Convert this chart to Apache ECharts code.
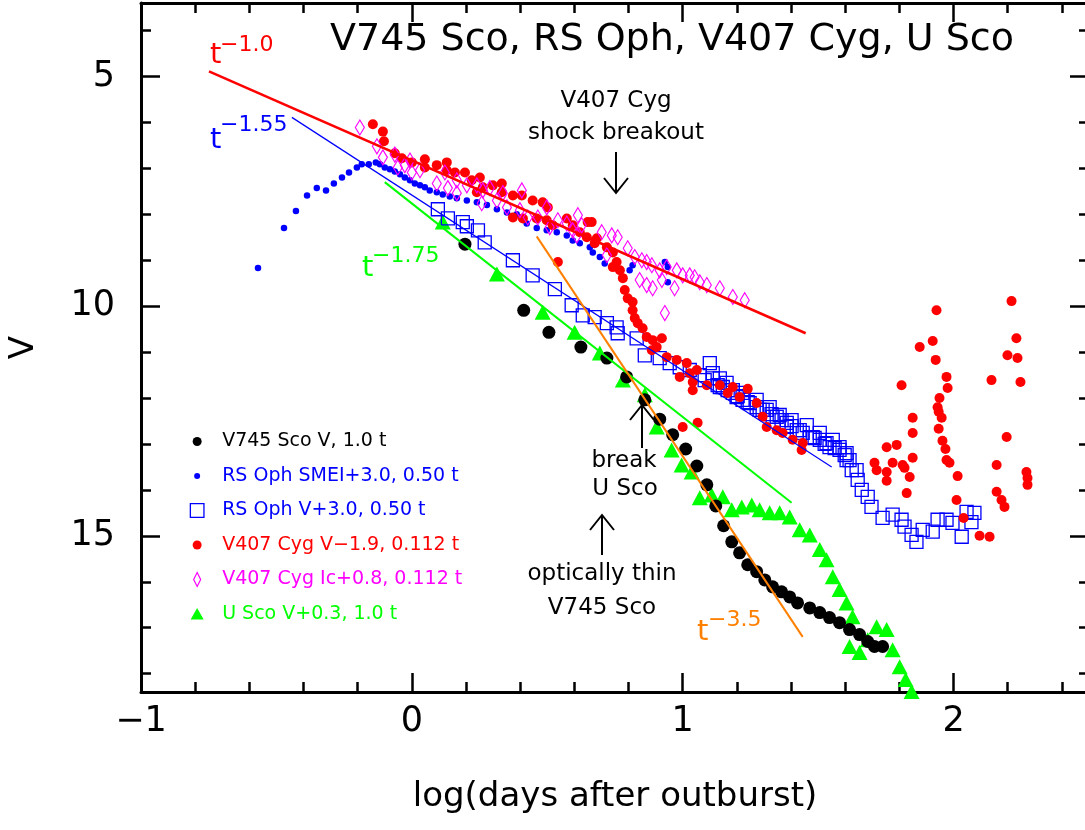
<!DOCTYPE html>
<html>
<head>
<meta charset="utf-8">
<script src="https://cdn.jsdelivr.net/npm/echarts@6/dist/echarts.min.js"></script>
<style>
html,body{margin:0;padding:0;background:#fff;}
#chart{width:1085px;height:830px;}
</style>
</head>
<body>
<div id="chart"></div>
<script>
// ---------- data (x = log days after outburst, y = V magnitude) ----------
const v745ScoV = [[0.196,8.65],[0.413,10.09],[0.506,10.57],[0.624,10.89],[0.720,11.13],[0.793,11.54],[0.860,12.04],[0.915,12.46],[0.963,12.80],[1.011,13.11],[1.052,13.48],[1.089,13.89],[1.122,14.35],[1.151,14.78],[1.181,15.13],[1.210,15.37],[1.240,15.63],[1.273,15.78],[1.303,15.96],[1.332,16.11],[1.365,16.22],[1.395,16.33],[1.424,16.46],[1.469,16.57],[1.506,16.67],[1.542,16.78],[1.579,16.89],[1.616,17.04],[1.653,17.15],[1.683,17.30],[1.708,17.41],[1.738,17.41]];

const rsOphSMEI = [[-0.568,9.17],[-0.472,8.30],[-0.428,7.93],[-0.387,7.59],[-0.351,7.43],[-0.317,7.48],[-0.288,7.33],[-0.258,7.20],[-0.232,7.09],[-0.203,6.98],[-0.185,6.91],[-0.159,6.91],[-0.133,6.87],[-0.118,6.91],[-0.100,6.98],[-0.081,7.02],[-0.063,7.07],[-0.044,7.13],[-0.026,7.20],[-0.007,7.26],[0.011,7.33],[0.030,7.37],[0.048,7.41],[0.066,7.48],[0.092,7.52],[0.114,7.57],[0.140,7.61],[0.166,7.65],[0.203,7.70],[0.240,7.74],[0.277,7.80],[0.314,7.89],[0.351,7.96],[0.387,8.00],[0.424,8.20],[0.461,8.30],[0.498,8.35],[0.535,8.39],[0.572,8.46],[0.594,8.57],[0.620,8.63],[0.657,8.72],[0.668,8.83],[0.694,8.93],[0.712,9.07],[0.804,9.22],[0.815,9.11],[0.934,9.04],[0.945,9.15],[0.945,9.48]];

const rsOphV = [[0.096,7.89],[0.133,8.09],[0.188,8.17],[0.203,8.26],[0.244,8.35],[0.269,8.61],[0.373,9.00],[0.446,9.33],[0.528,9.63],[0.590,9.98],[0.631,10.20],[0.675,10.24],[0.720,10.37],[0.756,10.46],[0.760,10.59],[0.830,10.70],[0.860,11.07],[0.915,11.13],[0.952,11.24],[0.989,11.33],[1.026,11.39],[1.063,11.50],[1.081,11.61],[1.111,11.57],[1.129,11.72],[1.148,11.76],[1.166,11.83],[1.185,11.89],[1.203,11.96],[1.221,12.04],[1.240,12.09],[1.273,12.20],[1.284,12.26],[1.310,12.26],[1.328,12.35],[1.347,12.41],[1.365,12.48],[1.384,12.54],[1.402,12.61],[1.421,12.70],[1.443,12.76],[1.469,12.85],[1.487,12.87],[1.506,12.91],[1.524,13.00],[1.542,13.07],[1.561,13.09],[1.579,13.13],[1.598,13.24],[1.605,13.35],[1.624,13.57],[1.646,13.78],[1.661,14.00],[1.683,14.15],[1.697,14.37],[1.738,14.61],[1.775,14.54],[1.808,14.65],[1.819,14.80],[1.845,14.98],[1.863,15.13],[1.886,14.87],[1.923,14.91],[1.941,14.65],[1.974,14.65],[1.996,14.72],[2.030,15.02],[2.048,14.48],[2.077,14.50],[2.066,14.70],
  [1.100,11.24],[1.111,11.46],[1.137,11.57],[1.137,11.76],[1.162,11.67],[1.185,11.83],[1.199,11.98],[1.221,11.89],[1.247,12.11],[1.273,12.04],[1.295,12.26],[1.321,12.20],[1.332,12.41],[1.358,12.37],[1.384,12.63],[1.402,12.48],[1.432,12.70],[1.458,12.59],[1.480,12.85],[1.506,12.76],[1.531,12.98],[1.554,12.91],[1.579,13.07],[1.605,13.20],[1.616,13.35],[1.642,13.57]];

const v407CygV = [[-0.144,6.04],[-0.107,6.20],[-0.103,6.41],[-0.063,6.67],[-0.037,6.78],[0.000,6.87],[0.048,6.80],[0.048,6.98],[0.092,6.93],[0.129,6.87],[0.129,7.04],[0.159,7.09],[0.196,7.09],[0.221,7.26],[0.251,7.20],[0.262,7.41],[0.299,7.37],[0.332,7.33],[0.332,7.52],[0.240,7.52],[0.373,7.59],[0.406,7.59],[0.446,7.70],[0.483,7.74],[0.502,7.85],[0.373,8.07],[0.410,8.09],[0.461,8.09],[0.498,8.13],[0.520,8.24],[0.572,8.09],[0.594,8.24],[0.620,8.39],[0.649,8.17],[0.646,8.50],[0.683,8.52],[0.664,8.17],[0.675,8.63],[0.720,8.72],[0.742,8.83],[0.756,9.04],[0.742,9.15],[0.768,9.22],[0.779,9.39],[0.786,9.65],[0.797,9.83],[0.815,9.91],[0.815,10.09],[0.823,10.26],[0.834,10.37],[0.852,10.48],[0.867,10.67],[0.889,10.74],[0.923,10.70],[0.904,10.89],[0.886,10.96],[0.941,11.11],[0.978,11.17],[1.015,11.24],[1.052,11.39],[1.026,11.46],[0.989,11.54],[1.037,11.65],[1.037,11.83],[1.089,11.72],[1.137,11.72],[1.185,11.76],[1.166,11.89],[1.210,11.98],[1.240,11.80],[1.273,12.11],[1.295,12.41],[1.310,12.63],[1.347,12.70],[1.369,12.76],[1.406,12.91],[1.443,12.98],[1.439,13.13],[0.539,9.04],[1.000,12.63],[1.055,12.54],[1.708,13.41],[1.716,13.57],[1.753,13.07],[1.790,13.02],[1.775,13.41],[1.812,13.46],[1.819,13.52],[1.753,13.61],[1.753,13.80],[1.827,14.07],[1.838,13.72],[1.849,13.30],[1.849,12.43],[1.849,12.76],[1.808,11.72],[1.875,10.89],[1.923,10.76],[1.937,10.09],[1.934,11.17],[1.974,11.54],[1.978,11.78],[1.948,12.00],[1.941,12.20],[1.945,12.30],[1.956,12.43],[1.945,12.67],[1.959,12.93],[1.970,13.11],[1.974,13.35],[1.985,13.41],[2.015,13.70],[2.011,14.22],[2.037,14.61],[2.096,15.00],[2.133,15.02],[2.140,11.61],[2.159,13.46],[2.159,14.04],[2.177,14.22],[2.188,14.37],[2.196,12.85],[2.199,11.07],[2.214,9.89],[2.232,10.70],[2.236,11.13],[2.247,11.65],[2.269,13.61],[2.273,13.74],[2.273,13.89]];

const v407CygIc = [[-0.192,6.11],[-0.129,6.52],[-0.107,6.76],[-0.063,6.70],[-0.052,6.98],[-0.026,6.93],[-0.007,6.83],[0.000,7.09],[0.030,7.04],[0.092,7.33],[0.122,7.09],[0.133,7.43],[0.166,7.54],[0.166,7.26],[0.203,7.37],[0.240,7.37],[0.258,7.76],[0.262,7.48],[0.288,7.43],[0.314,7.70],[0.336,7.54],[0.351,7.85],[0.406,7.48],[0.399,7.91],[0.428,8.07],[0.465,8.07],[0.498,7.85],[0.509,8.28],[0.539,8.13],[0.572,8.20],[0.594,8.35],[0.613,8.02],[0.609,8.46],[0.627,8.24],[0.701,8.39],[0.738,8.46],[0.760,8.50],[0.720,8.89],[0.797,8.74],[0.823,8.93],[0.849,9.00],[0.867,9.04],[0.886,9.11],[0.915,9.22],[0.941,9.15],[0.978,9.22],[1.000,9.33],[1.026,9.33],[1.044,9.37],[1.063,9.48],[1.089,9.54],[1.137,9.61],[1.185,9.80],[1.229,9.87],[0.841,9.43],[0.867,9.54],[0.889,9.61],[0.923,9.43],[0.970,9.61],[0.934,10.15]];

const uScoV = [[0.114,8.17],[0.314,9.30],[0.483,10.13],[0.601,10.57],[0.694,11.02],[0.779,11.61],[0.860,11.93],[0.904,12.63],[0.959,13.13],[0.996,13.46],[1.033,13.61],[1.063,14.17],[1.107,14.11],[1.148,14.15],[1.181,14.43],[1.218,14.37],[1.255,14.33],[1.284,14.43],[1.321,14.50],[1.358,14.50],[1.395,14.59],[1.432,14.87],[1.469,14.98],[1.506,15.30],[1.531,15.52],[1.554,15.89],[1.579,16.17],[1.605,16.46],[1.627,16.76],[1.616,17.41],[1.653,17.54],[1.683,17.26],[1.716,16.98],[1.753,17.04],[1.775,17.48],[1.801,17.85],[1.823,18.13],[1.845,18.39]];

// power-law guide lines (end points)
const fitT10  = [[-0.749,4.89],[1.454,10.59]];
const fitT155 = [[-0.443,5.89],[1.550,13.50]];
const fitT175 = [[-0.100,7.30],[1.402,14.28]];
const fitT35  = [[0.461,8.48],[1.443,17.20]];

// axis ticks
const xMajor = [-1, 0, 1, 2];
const xMinor = [-0.8,-0.6,-0.4,-0.2,0.2,0.4,0.6,0.8,1.2,1.4,1.6,1.8,2.2,2.4];
const yMajor = [5, 10, 15];
const yMinor = [4,6,7,8,9,11,12,13,14,16,17,18];

const seriesNames = ['V745 Sco V, 1.0 t','RS Oph SMEI+3.0, 0.50 t','RS Oph V+3.0, 0.50 t','V407 Cyg V\u22121.9, 0.112 t','V407 Cyg Ic+0.8, 0.112 t','U Sco V+0.3, 1.0 t'];

// ---------- chart ----------
const FONT = '"DejaVu Sans", sans-serif';
const chart = echarts.init(document.getElementById('chart'), null, {renderer: 'canvas'});

function xAx(pos, vals, len, withLine, withLabel) {
  return {
    type: 'value', position: pos, min: -1, max: 2.5,
    axisLine: {show: withLine, onZero: false, lineStyle: {color: '#000', width: 3}},
    axisTick: {show: true, inside: true, length: len, customValues: vals, lineStyle: {color: '#000', width: 2.5}},
    axisLabel: withLabel ? {show: true, customValues: xMajor, margin: 12, color: '#000', fontSize: 35, fontFamily: FONT,
      formatter: v => String(v).replace('-', '\u2212')} : {show: false},
    splitLine: {show: false}
  };
}
function yAx(pos, vals, len, withLine, withLabel) {
  return {
    type: 'value', position: pos, min: 3.4, max: 18.4, inverse: true,
    axisLine: {show: withLine, onZero: false, lineStyle: {color: '#000', width: 3}},
    axisTick: {show: true, inside: true, length: len, customValues: vals, lineStyle: {color: '#000', width: 2.5}},
    axisLabel: withLabel ? {show: true, customValues: yMajor, margin: 26, color: '#000', fontSize: 35, fontFamily: FONT} : {show: false},
    splitLine: {show: false}
  };
}

const xAxes = [xAx('bottom', xMajor, 19, true, true), xAx('bottom', xMinor, 10, false, false),
               xAx('top', xMajor, 19, true, false), xAx('top', xMinor, 10, false, false)];
Object.assign(xAxes[0], {name: 'log(days after outburst)', nameLocation: 'middle', nameGap: 88,
  nameTextStyle: {color: '#000', fontSize: 34, fontFamily: FONT}});
const yAxes = [yAx('left', yMajor, 19, true, true), yAx('left', yMinor, 10, false, false),
               yAx('right', yMajor, 19, true, false), yAx('right', yMinor, 10, false, false)];
Object.assign(yAxes[0], {name: 'V', nameLocation: 'middle', nameGap: 100, nameRotate: 90,
  nameTextStyle: {color: '#000', fontSize: 34, fontFamily: FONT}});

function scatter(name, data, symbol, size, itemStyle, z) {
  return {type: 'scatter', name, data, symbol, symbolSize: size, itemStyle: Object.assign({opacity: 1}, itemStyle), z,
    xAxisIndex: 0, yAxisIndex: 0, silent: true, emphasis: {disabled: true}};
}
function fitLine(data, color, width) {
  return {type: 'line', data, showSymbol: false, symbol: 'none', silent: true, z: 10,
    xAxisIndex: 0, yAxisIndex: 0, lineStyle: {color, width, opacity: 1}, emphasis: {disabled: true}};
}

const legendIcons = [
  'path://M0,0M15,15M7.5,3A4.5,4.5,0,1,1,7.5,12A4.5,4.5,0,1,1,7.5,3Z',
  'path://M0,0M15,15M7.5,4.5A3,3,0,1,1,7.5,10.5A3,3,0,1,1,7.5,4.5Z',
  'path://M0,0M15,15M0.7,0.7L14.3,0.7L14.3,14.3L0.7,14.3Z',
  'path://M0,0M15,15M7.5,3A4.5,4.5,0,1,1,7.5,12A4.5,4.5,0,1,1,7.5,3Z',
  'path://M0,0M15,15M7.5,0.5L11,7.5L7.5,14.5L4,7.5Z',
  'path://M0,0M15,15M7.5,1.5L14,13L1,13Z'
];
const legendColors = ['#000000','#0000ff','#0000ff','#ff0000','#ff00ff','#00ff00'];
const legendStyles = [
  {color: '#000', opacity: 1}, {color: '#0000ff', opacity: 1},
  {color: 'rgba(0,0,0,0)', borderColor: '#0000ff', borderWidth: 1.3, opacity: 1},
  {color: '#ff0000', opacity: 1},
  {color: 'rgba(0,0,0,0)', borderColor: '#ff00ff', borderWidth: 1.2, opacity: 1},
  {color: '#00ff00', opacity: 1}
];

function txt(text, x, y, size, color, align) {
  return {type: 'text', x, y, silent: true, z: 100,
    style: {text, font: size + 'px ' + FONT, fill: color, align: align || 'center', verticalAlign: 'middle'}};
}
function arrow(x, y0, y1, up) {
  const tip = up ? y0 : y1, dir = up ? 1 : -1;
  return [
    {type: 'polyline', silent: true, z: 100, shape: {points: [[x, y0], [x, y1]]}, style: {stroke: '#000', lineWidth: 2, fill: null}},
    {type: 'polyline', silent: true, z: 100, shape: {points: [[x - 12, tip + dir * 15], [x, tip], [x + 12, tip + dir * 15]]}, style: {stroke: '#000', lineWidth: 2, fill: null}}
  ];
}

const option = {
  animation: false,
  backgroundColor: '#fff',
  grid: {left: 141, top: 3, right: -4, bottom: 138, containLabel: false, outerBoundsMode: 'none', show: false},
  xAxis: xAxes,
  yAxis: yAxes,
  legend: {
    orient: 'vertical', left: 184, top: 427, itemWidth: 40, itemHeight: 15, itemGap: 15.5,
    selectedMode: false, symbolKeepAspect: true,
    textStyle: {fontSize: 19, fontFamily: FONT},
    data: seriesNames.map((n, i) => ({name: n, icon: legendIcons[i], itemStyle: legendStyles[i],
      textStyle: {color: legendColors[i], fontSize: 19, fontFamily: FONT}}))
  },
  series: [
    scatter(seriesNames[5], uScoV, 'triangle', [16, 15], {color: '#00ff00'}, 2),
    scatter(seriesNames[0], v745ScoV, 'circle', 13, {color: '#000'}, 3),
    scatter(seriesNames[1], rsOphSMEI, 'circle', 6.5, {color: '#0000ff'}, 3),
    scatter(seriesNames[2], rsOphV, 'rect', 13, {color: 'rgba(0,0,0,0)', borderColor: '#0000ff', borderWidth: 1.3}, 4),
    scatter(seriesNames[3], v407CygV, 'circle', 10, {color: '#ff0000'}, 5),
    scatter(seriesNames[4], v407CygIc, 'diamond', [9, 15], {color: 'rgba(0,0,0,0)', borderColor: '#ff00ff', borderWidth: 1.2}, 6),
    fitLine(fitT10, '#ff0000', 2.5),
    fitLine(fitT155, '#0000ff', 1.2),
    fitLine(fitT175, '#00ff00', 2),
    fitLine(fitT35, '#ff8000', 2)
  ],
  graphic: [
    txt('V745 Sco, RS Oph, V407 Cyg, U Sco', 330, 40, 38, '#000', 'left'),
    txt('t', 210, 55, 29, '#ff0000', 'left'),
    txt('\u22121.0', 220, 45, 22, '#ff0000', 'left'),
    txt('t', 210, 140, 29, '#0000ff', 'left'),
    txt('\u22121.55', 220, 125, 22, '#0000ff', 'left'),
    txt('t', 362, 268, 29, '#00ff00', 'left'),
    txt('\u22121.75', 372, 256, 22, '#00ff00', 'left'),
    txt('t', 697, 632, 29, '#ff8000', 'left'),
    txt('\u22123.5', 708, 620, 22, '#ff8000', 'left'),
    txt('V407 Cyg', 616, 101, 23, '#000'),
    txt('shock breakout', 616, 133, 23, '#000'),
    ...arrow(616, 152, 193, false),
    ...arrow(642, 405, 448, true),
    txt('break', 624, 461, 23, '#000'),
    txt('U Sco', 625, 489, 23, '#000'),
    ...arrow(602, 515, 555, true),
    txt('optically thin', 602, 574, 23, '#000'),
    txt('V745 Sco', 602, 608, 23, '#000')
  ]
};
chart.setOption(option);
</script>
</body>
</html>
